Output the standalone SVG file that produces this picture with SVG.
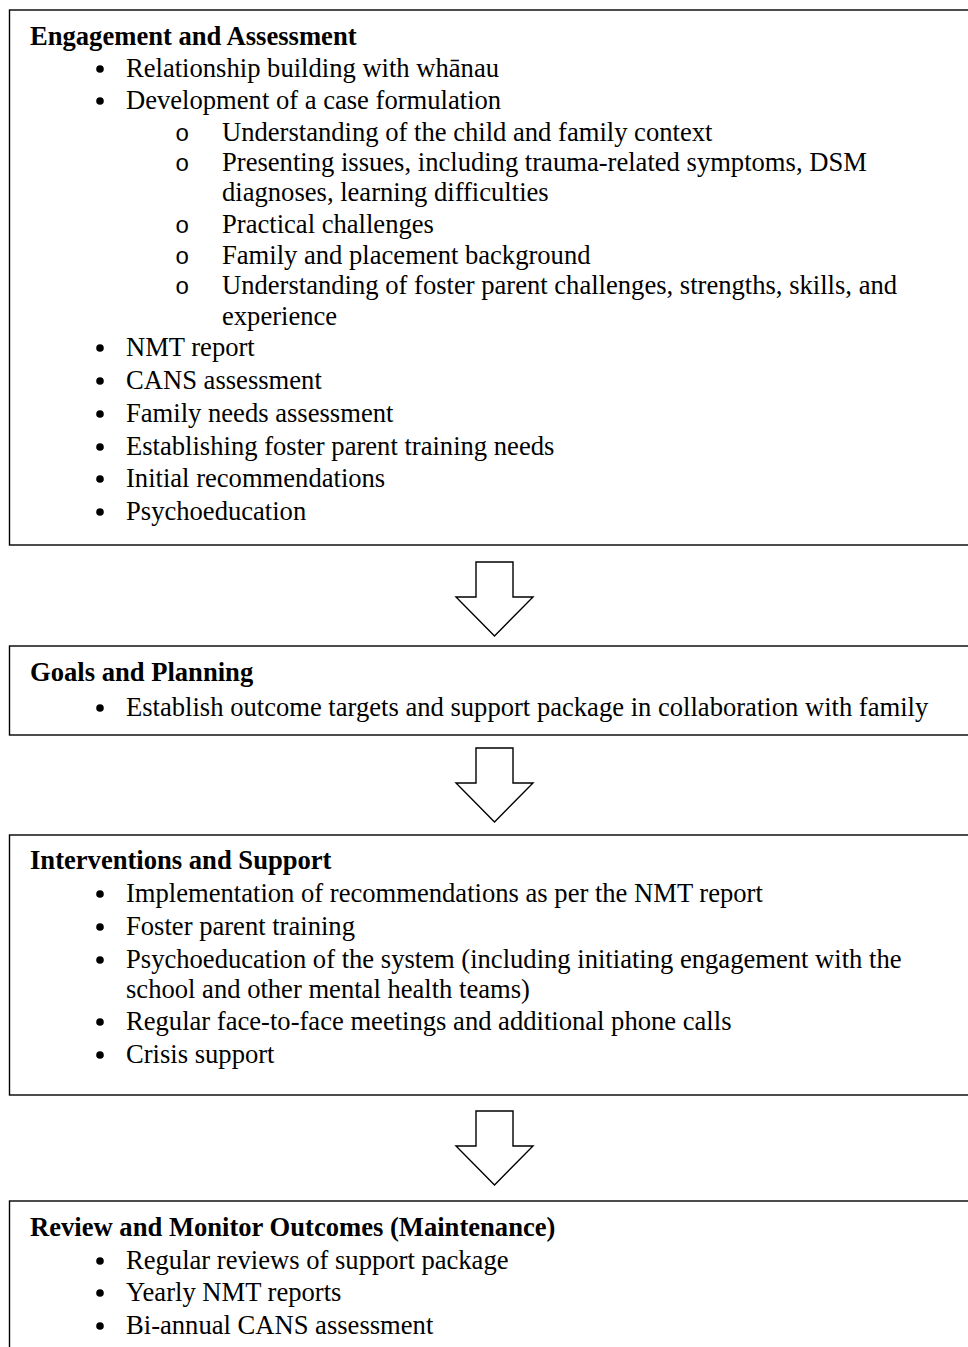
<svg xmlns="http://www.w3.org/2000/svg" width="968" height="1347" viewBox="0 0 968 1347">
<defs>
<circle id="b" r="3.8" fill="#000"/>
</defs>
<style>
.box{fill:#fff;stroke:#000;stroke-width:1.4}
.arrow{fill:#fff;stroke:#000;stroke-width:1.4;stroke-linejoin:miter}
text{font-family:"Liberation Serif","Times New Roman",serif;font-size:26.6px;fill:#000}
.h{font-weight:bold}
.sub{font-family:"Liberation Mono","Courier New",monospace;font-size:24px}
</style>
<rect width="968" height="1347" fill="#fff"/>
<g id="box-engagement">
<rect class="box" x="9.5" y="10" width="970" height="535"/>
<text class="h" x="30" y="45">Engagement and Assessment</text>
<use href="#b" x="100" y="69"/><text x="126" y="77">Relationship building with whānau</text>
<use href="#b" x="100" y="101"/><text x="126" y="109">Development of a case formulation</text>
<text class="sub" x="175" y="141">o</text><text x="222" y="141">Understanding of the child and family context</text>
<text class="sub" x="175" y="171">o</text><text x="222" y="171">Presenting issues, including trauma-related symptoms, DSM</text>
<text x="222" y="201">diagnoses, learning difficulties</text>
<text class="sub" x="175" y="233">o</text><text x="222" y="233">Practical challenges</text>
<text class="sub" x="175" y="264">o</text><text x="222" y="264">Family and placement background</text>
<text class="sub" x="175" y="294">o</text><text x="222" y="294">Understanding of foster parent challenges, strengths, skills, and</text>
<text x="222" y="325">experience</text>
<use href="#b" x="100" y="348"/><text x="126" y="356">NMT report</text>
<use href="#b" x="100" y="381"/><text x="126" y="389">CANS assessment</text>
<use href="#b" x="100" y="414"/><text x="126" y="422">Family needs assessment</text>
<use href="#b" x="100" y="447"/><text x="126" y="455">Establishing foster parent training needs</text>
<use href="#b" x="100" y="479"/><text x="126" y="487">Initial recommendations</text>
<use href="#b" x="100" y="512"/><text x="126" y="520">Psychoeducation</text>
</g>
<g id="box-goals">
<rect class="box" x="9.5" y="646" width="970" height="89"/>
<text class="h" x="30" y="681">Goals and Planning</text>
<use href="#b" x="100" y="708"/><text x="126" y="716">Establish outcome targets and support package in collaboration with family</text>
</g>
<g id="box-interventions">
<rect class="box" x="9.5" y="835" width="970" height="260"/>
<text class="h" x="30" y="869">Interventions and Support</text>
<use href="#b" x="100" y="894"/><text x="126" y="902">Implementation of recommendations as per the NMT report</text>
<use href="#b" x="100" y="927"/><text x="126" y="935">Foster parent training</text>
<use href="#b" x="100" y="960"/><text x="126" y="968">Psychoeducation of the system (including initiating engagement with the</text>
<text x="126" y="998">school and other mental health teams)</text>
<use href="#b" x="100" y="1022"/><text x="126" y="1030">Regular face-to-face meetings and additional phone calls</text>
<use href="#b" x="100" y="1055"/><text x="126" y="1063">Crisis support</text>
</g>
<g id="box-review">
<rect class="box" x="9.5" y="1201" width="970" height="160"/>
<text class="h" x="30" y="1236">Review and Monitor Outcomes (Maintenance)</text>
<use href="#b" x="100" y="1261"/><text x="126" y="1269">Regular reviews of support package</text>
<use href="#b" x="100" y="1293"/><text x="126" y="1301">Yearly NMT reports</text>
<use href="#b" x="100" y="1326"/><text x="126" y="1334">Bi-annual CANS assessment</text>
</g>
<g id="connectors">
<polygon class="arrow" points="476,562 513,562 513,597 533,597 494.5,636 456,597 476,597"/>
<polygon class="arrow" points="476,748 513,748 513,783 533,783 494.5,822 456,783 476,783"/>
<polygon class="arrow" points="476,1111 513,1111 513,1146 533,1146 494.5,1185 456,1146 476,1146"/>
</g>
</svg>
